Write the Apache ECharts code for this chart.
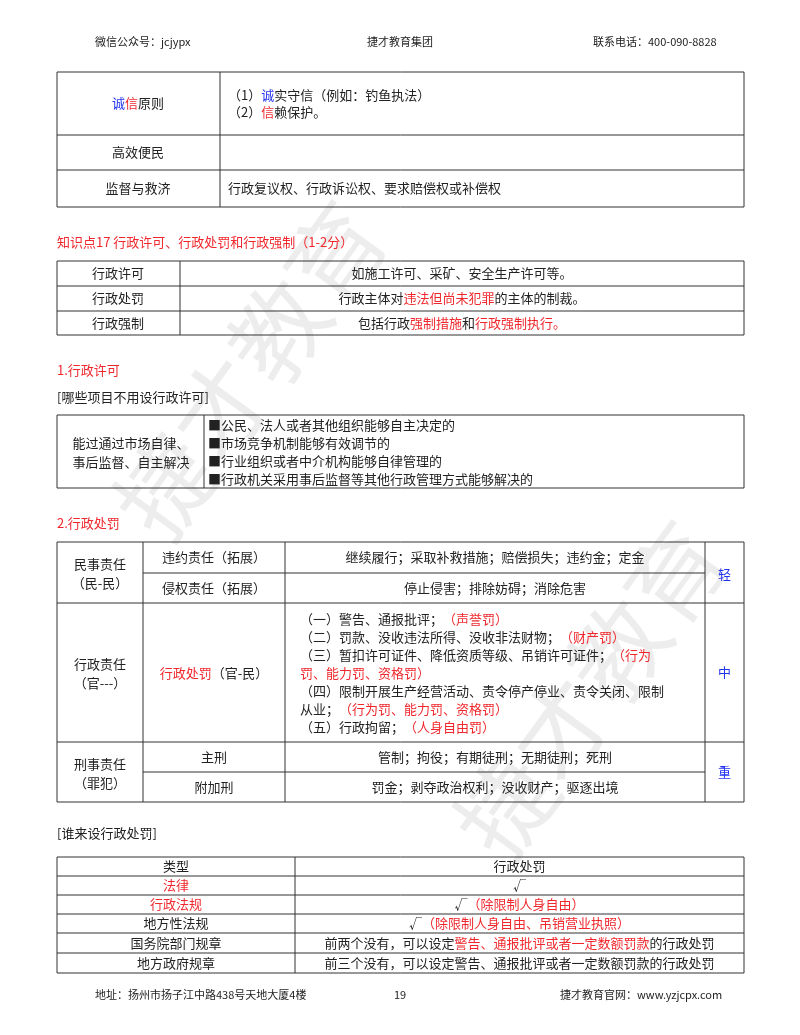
<!DOCTYPE html>
<html><head><meta charset="utf-8">
<script src="https://cdn.jsdelivr.net/npm/echarts@6/dist/echarts.min.js"></script>
<style>html,body{margin:0;background:#fff}#main{width:800px;height:1035px}</style>
</head><body><div id="main"></div>
<script>
// page texts ({r|..} = red, {b|..} = blue)
const headerTexts = ['微信公众号：jcjypx', '捷才教育集团', '联系电话：400-090-8828']
const footerTexts = ['地址：扬州市扬子江中路438号天地大厦4楼', '19', '捷才教育官网：www.yzjcpx.com']

const principleRows = [
  ['{b|诚}{r|信}原则', ['（1）{b|诚}实守信（例如：钓鱼执法）', '（2）{r|信}赖保护。']],
  ['高效便民', []],
  ['监督与救济', ['行政复议权、行政诉讼权、要求赔偿权或补偿权']]
]
const point17Title = '知识点17 行政许可、行政处罚和行政强制（1-2分）'
const point17Rows = [
  ['行政许可', '如施工许可、采矿、安全生产许可等。'],
  ['行政处罚', '行政主体对{r|违法但尚未犯罪}的主体的制裁。'],
  ['行政强制', '包括行政{r|强制措施}和{r|行政强制执行。}']
]
const licenseTitle = '1.行政许可'
const licenseSub = '[哪些项目不用设行政许可]'
const licenseLeft = ['能过通过市场自律、', '事后监督、自主解决']
const licenseItems = [
  '■公民、法人或者其他组织能够自主决定的',
  '■市场竞争机制能够有效调节的',
  '■行业组织或者中介机构能够自律管理的',
  '■行政机关采用事后监督等其他行政管理方式能够解决的'
]
const penaltyTitle = '2.行政处罚'
const civilLabel = ['民事责任', '（民-民）']
const civilRows = [['违约责任（拓展）', '继续履行；采取补救措施；赔偿损失；违约金；定金'],
                   ['侵权责任（拓展）', '停止侵害；排除妨碍；消除危害']]
const adminLabel = ['行政责任', '（官---）']
const adminMid = '{r|行政处罚}（官-民）'
const adminLines = [
  '（一）警告、通报批评；{r|（声誉罚）}',
  '（二）罚款、没收违法所得、没收非法财物；{r|（财产罚）}',
  '（三）暂扣许可证件、降低资质等级、吊销许可证件；{r|（行为}',
  '{r|罚、能力罚、资格罚）}',
  '（四）限制开展生产经营活动、责令停产停业、责令关闭、限制',
  '从业；{r|（行为罚、能力罚、资格罚）}',
  '（五）行政拘留；{r|（人身自由罚）}'
]
const criminalLabel = ['刑事责任', '（罪犯）']
const criminalRows = [['主刑', '管制；拘役；有期徒刑；无期徒刑；死刑'],
                      ['附加刑', '罚金；剥夺政治权利；没收财产；驱逐出境']]
const severity = ['轻', '中', '重']
const whoTitle = '[谁来设行政处罚]'
const whoRows = [
  ['类型', '行政处罚'],
  ['{r|法律}', '√'],
  ['{r|行政法规}', '√{r|（除限制人身自由）}'],
  ['地方性法规', '√{r|（除限制人身自由、吊销营业执照）}'],
  ['国务院部门规章', '前两个没有，可以设定{r|警告、通报批评或者一定数额罚款}的行政处罚'],
  ['地方政府规章', '前三个没有，可以设定警告、通报批评或者一定数额罚款的行政处罚']
]
const watermark = '捷才教育'

const FONT = '"Noto Sans CJK SC", sans-serif'
const els = []
const rich = fs => ({ r: { fill: '#f0282d', fontSize: fs, fontFamily: FONT }, b: { fill: '#2233ee', fontSize: fs, fontFamily: FONT } })
function txt(s, x, y, align, fs, color) {
  fs = fs || 13
  els.push({ type: 'text', x, y, z: 5, style: { text: s, fill: color || '#222', fontSize: fs, fontFamily: FONT,
    align: align || 'left', verticalAlign: 'middle', rich: rich(fs) } })
}
function line(x1, y1, x2, y2) {
  els.push({ type: 'line', z: 4, shape: { x1, y1, x2, y2 }, style: { stroke: '#333', lineWidth: 1 } })
}
function box(x1, y1, x2, y2) {
  els.push({ type: 'rect', z: 4, shape: { x: x1, y: y1, width: x2 - x1, height: y2 - y1 }, style: { fill: 'none', stroke: '#333', lineWidth: 1 } })
}
const L = 57, R = 744

// watermark
els.push({ type: 'text', x: 250, y: 370, rotation: Math.PI * 0.3, z: 1, style: { text: watermark, fill: 'rgba(0,0,0,0.07)', fontSize: 96, fontFamily: FONT, align: 'center', verticalAlign: 'middle' } })
els.push({ type: 'text', x: 590, y: 690, rotation: Math.PI * 0.3, z: 1, style: { text: watermark, fill: 'rgba(0,0,0,0.07)', fontSize: 96, fontFamily: FONT, align: 'center', verticalAlign: 'middle' } })

// header / footer
txt(headerTexts[0], 95, 42, 'left', 11); txt(headerTexts[1], 400, 42, 'center', 11); txt(headerTexts[2], 593, 42, 'left', 11)
txt(footerTexts[0], 95, 995, 'left', 11); txt(footerTexts[1], 400, 995, 'center', 11); txt(footerTexts[2], 560, 995, 'left', 11)

// table 1
const t1y = [72, 135, 170, 207]
box(L, t1y[0], R, t1y[3]); line(220, t1y[0], 220, t1y[3])
principleRows.forEach((row, i) => {
  if (i) line(L, t1y[i], R, t1y[i])
  const cy = (t1y[i] + t1y[i + 1]) / 2
  txt(row[0], 138, cy, 'center')
  row[1].forEach((s, j) => txt(s, 228, cy + (j - (row[1].length - 1) / 2) * 17, 'left'))
})

// point 17
txt(point17Title, L, 242, 'left', 13, '#f0282d')
const t2y = [261, 286, 311, 335]
box(L, t2y[0], R, t2y[3]); line(180, t2y[0], 180, t2y[3])
point17Rows.forEach((row, i) => {
  if (i) line(L, t2y[i], R, t2y[i])
  const cy = (t2y[i] + t2y[i + 1]) / 2
  txt(row[0], 118, cy, 'center'); txt(row[1], 462, cy, 'center')
})

// license
txt(licenseTitle, L, 370, 'left', 13, '#f0282d')
txt(licenseSub, L, 397, 'left')
box(L, 415, R, 488); line(204, 415, 204, 488)
licenseLeft.forEach((s, i) => txt(s, 131, 443 + i * 19, 'center'))
licenseItems.forEach((s, i) => txt(s, 208, 425 + i * 18, 'left'))

// penalty table
txt(penaltyTitle, L, 523, 'left', 13, '#f0282d')
const c1 = 143, c2 = 285, c3 = 705
const py = [542, 573, 603, 742, 772, 802]
box(L, py[0], R, py[5])
line(c1, py[0], c1, py[5]); line(c2, py[0], c2, py[5]); line(c3, py[0], c3, py[5])
line(L, py[2], R, py[2]); line(L, py[3], R, py[3])
line(c1, py[1], c3, py[1]); line(c1, py[4], c3, py[4])
const mid1 = (c1 + c2) / 2, mid2 = (c2 + c3) / 2, mid0 = (L + c1) / 2, mid3 = (c3 + R) / 2
civilLabel.forEach((s, i) => txt(s, mid0, 564 + i * 19, 'center'))
civilRows.forEach((row, i) => { const cy = (py[i] + py[i + 1]) / 2; txt(row[0], mid1, cy, 'center'); txt(row[1], mid2, cy, 'center') })
adminLabel.forEach((s, i) => txt(s, mid0, 664 + i * 19, 'center'))
txt(adminMid, mid1, 673, 'center')
adminLines.forEach((s, i) => txt(s, 300, 619 + i * 18, 'left'))
criminalLabel.forEach((s, i) => txt(s, mid0, 764 + i * 19, 'center'))
criminalRows.forEach((row, i) => { const cy = (py[i + 3] + py[i + 4]) / 2; txt(row[0], mid1, cy, 'center'); txt(row[1], mid2, cy, 'center') })
txt(severity[0], mid3, 574, 'center', 13, '#2233ee'); txt(severity[1], mid3, 672, 'center', 13, '#2233ee'); txt(severity[2], mid3, 772, 'center', 13, '#2233ee')

// who sets penalties
txt(whoTitle, L, 833, 'left')
const wy = [857, 876, 895, 914, 933, 953, 973], ws = 295
box(L, wy[0], R, wy[6]); line(ws, wy[0], ws, wy[6])
whoRows.forEach((row, i) => {
  if (i) line(L, wy[i], R, wy[i])
  const cy = (wy[i] + wy[i + 1]) / 2
  txt(row[0], (L + ws) / 2, cy, 'center'); txt(row[1], (ws + R) / 2, cy, 'center')
})

const chart = echarts.init(document.getElementById('main'))
chart.setOption({ backgroundColor: '#fff', animation: false, graphic: { elements: els } })
</script></body></html>
